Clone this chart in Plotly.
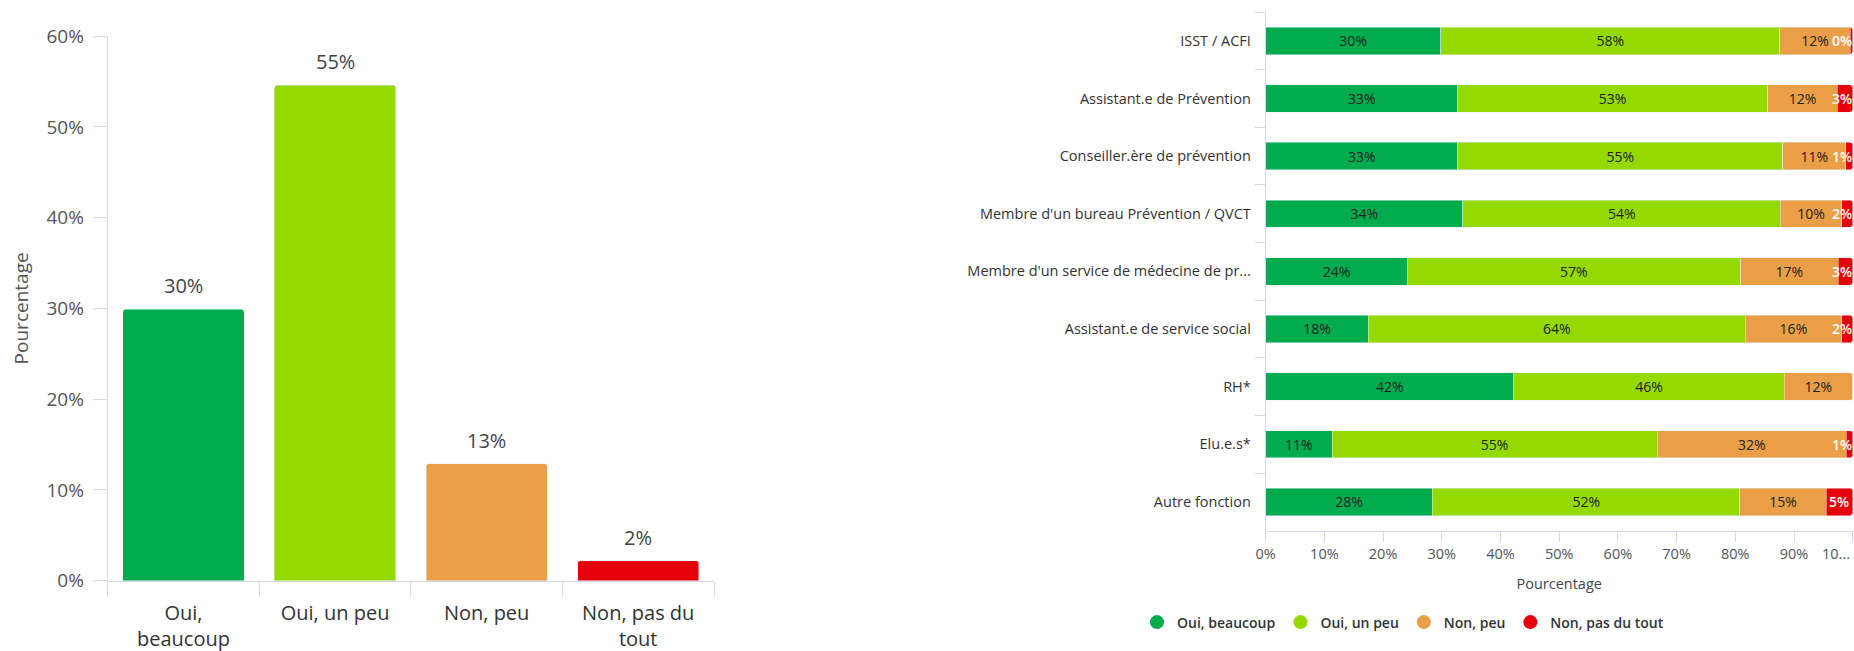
import plotly.graph_objects as go

# ---------------- data ----------------
responses = ["Oui, beaucoup", "Oui, un peu", "Non, peu", "Non, pas du tout"]
left_tick_labels = ["Oui,<br>beaucoup", "Oui, un peu", "Non, peu", "Non, pas du<br>tout"]
overall_pct = [29.9, 54.6, 12.9, 2.2]

functions = [
    "ISST / ACFI",
    "Assistant.e de Prévention",
    "Conseiller.ère de prévention",
    "Membre d'un bureau Prévention / QVCT",
    "Membre d'un service de médecine de pr...",
    "Assistant.e de service social",
    "RH*",
    "Elu.e.s*",
    "Autre fonction",
]
oui_beaucoup = [29.8, 32.7, 32.7, 33.6, 24.1, 17.5, 42.3, 11.3, 28.4]
oui_un_peu = [57.8, 52.8, 55.4, 54.1, 56.8, 64.2, 46.0, 55.4, 52.4]
non_peu = [12.0, 11.9, 10.7, 10.4, 16.6, 16.4, 11.7, 32.2, 14.7]
non_pas_du_tout = [0.4, 2.6, 1.2, 1.9, 2.5, 1.9, 0.0, 1.1, 4.5]

x_tickvals = [0, 10, 20, 30, 40, 50, 60, 70, 80, 90, 100]
x_ticktext = ["0%", "10%", "20%", "30%", "40%", "50%", "60%", "70%", "80%", "90%", "10..."]

colors = ["#00AC4E", "#94D900", "#EA9E45", "#E6000A"]
AXIS = "#D3DAEE"
FONT = "Open Sans"

W, H = 1854, 651


def fx(px):
    return px / W


def fy(py):
    return 1 - py / H


def pct(v):
    return f"{int(v + 0.5)}%"


fig = go.Figure()

# ---------------- left chart ----------------
fig.add_trace(go.Bar(
    x=responses, y=overall_pct, marker_color=colors, width=0.8,
    xaxis="x", yaxis="y", showlegend=False, hoverinfo="x+y",
))
annotations = []
for r, v in zip(responses, overall_pct):
    annotations.append(dict(
        x=r, y=v, xref="x", yref="y", text=pct(v), showarrow=False,
        yanchor="bottom", yshift=8, font=dict(family=FONT, size=20, color="#444"),
    ))

# ---------------- right chart ----------------
series = [oui_beaucoup, oui_un_peu, non_peu, non_pas_du_tout]
for i, (name, vals) in enumerate(zip(responses, series)):
    if i < 3:
        fig.add_trace(go.Bar(
            y=functions, x=vals, orientation="h", name=name,
            marker_color=colors[i], width=0.475,
            text=[pct(v) for v in vals], textposition="inside",
            insidetextanchor="middle", textangle=0,
            textfont=dict(family=FONT, size=14, color="#222"),
            xaxis="x2", yaxis="y2", showlegend=False,
        ))
    else:
        fig.add_trace(go.Bar(
            y=functions, x=vals, orientation="h", name=name,
            marker_color=colors[i], width=0.475,
            xaxis="x2", yaxis="y2", showlegend=False,
        ))

# labels of the last (red) segment: white, kept at the end of the bar
for j, f in enumerate(functions):
    v = non_pas_du_tout[j]
    if v <= 0:
        continue
    end = round(oui_beaucoup[j] + oui_un_peu[j] + non_peu[j] + v, 6)
    end = min(end, 100)
    wfont = dict(family=FONT, size=14, color="white", weight=600)
    if v >= 4:
        annotations.append(dict(x=end - v / 2, y=f, xref="x2", yref="y2", text=pct(v),
                                showarrow=False, xanchor="center", font=wfont))
    else:
        annotations.append(dict(x=end, y=f, xref="x2", yref="y2", text=pct(v),
                                showarrow=False, xanchor="right", xshift=1, font=wfont))

# the last x tick label is truncated and kept inside the chart edge
annotations.append(dict(
    x=x_tickvals[-1], y=fy(553), xref="x2", yref="paper", text=x_ticktext[-1],
    showarrow=False, xanchor="right", yanchor="middle", xshift=-1,
    font=dict(family=FONT, size=14.5, color="#555"),
))
tick_text_shown = x_ticktext[:-1] + [""]

# legend entries with round markers
for name, c in zip(responses, colors):
    fig.add_trace(go.Scatter(
        x=[None], y=[None], mode="markers", name=name,
        marker=dict(symbol="circle", size=14, color=c),
        xaxis="x2", yaxis="y2", showlegend=True,
    ))

fig.update_layout(
    width=W, height=H,
    margin=dict(l=0, r=0, t=0, b=0, autoexpand=False),
    paper_bgcolor="white", plot_bgcolor="white",
    barmode="stack", barcornerradius=3,
    font=dict(family=FONT, color="#444"),
    annotations=annotations,
    xaxis=dict(
        domain=[fx(107.7), fx(714)], anchor="y",
        showline=True, linecolor=AXIS, linewidth=1,
        ticks="outside", ticklen=14, tickcolor=AXIS, tickson="boundaries",
        tickfont=dict(family=FONT, size=20, color="#333"),
        tickvals=responses, ticktext=left_tick_labels,
        ticklabelstandoff=14, showgrid=False, zeroline=False, fixedrange=True,
    ),
    yaxis=dict(
        domain=[fy(580.7), fy(36.1)], anchor="x",
        range=[0, 60], dtick=10, ticksuffix="%",
        showline=True, linecolor=AXIS, linewidth=1,
        ticks="outside", ticklen=14, tickcolor=AXIS,
        tickfont=dict(family=FONT, size=19, color="#555"),
        ticklabelstandoff=5, showgrid=False, zeroline=False,
        title=dict(text="Pourcentage", font=dict(family=FONT, size=19, color="#555"), standoff=12),
    ),
    xaxis2=dict(
        domain=[fx(1265.7), fx(1852.7)], anchor="y2",
        range=[0, 100], tickvals=x_tickvals, ticktext=tick_text_shown,
        showline=True, linecolor=AXIS, linewidth=1,
        ticks="outside", ticklen=10, tickcolor=AXIS,
        tickfont=dict(family=FONT, size=14.5, color="#555"),
        showgrid=False, zeroline=False,
        title=dict(text="Pourcentage", font=dict(family=FONT, size=14.5, color="#444"), standoff=16),
    ),
    yaxis2=dict(
        domain=[fy(530.7), fy(12)], anchor="x2",
        categoryorder="array", categoryarray=functions, range=[8.5, -0.5],
        showline=True, linecolor=AXIS, linewidth=1,
        ticks="outside", ticklen=10, tickcolor=AXIS, tickson="boundaries",
        tickfont=dict(family=FONT, size=14.5, color="#333"),
        ticklabelstandoff=11, showgrid=False, zeroline=False,
    ),
    legend=dict(
        orientation="h", traceorder="normal",
        x=fx(1137), xanchor="left", y=fy(622.5), yanchor="middle",
        font=dict(family=FONT, size=14, color="#333", weight=600),
        bgcolor="rgba(0,0,0,0)", itemclick=False,
    ),
)

# remove the browser's default 8px body margin so the figure fills the window exactly
fig.write_html(
    "out.html",
    config={"displayModeBar": False},
    post_script="document.body.style.margin='0';document.body.style.overflow='hidden';",
)
